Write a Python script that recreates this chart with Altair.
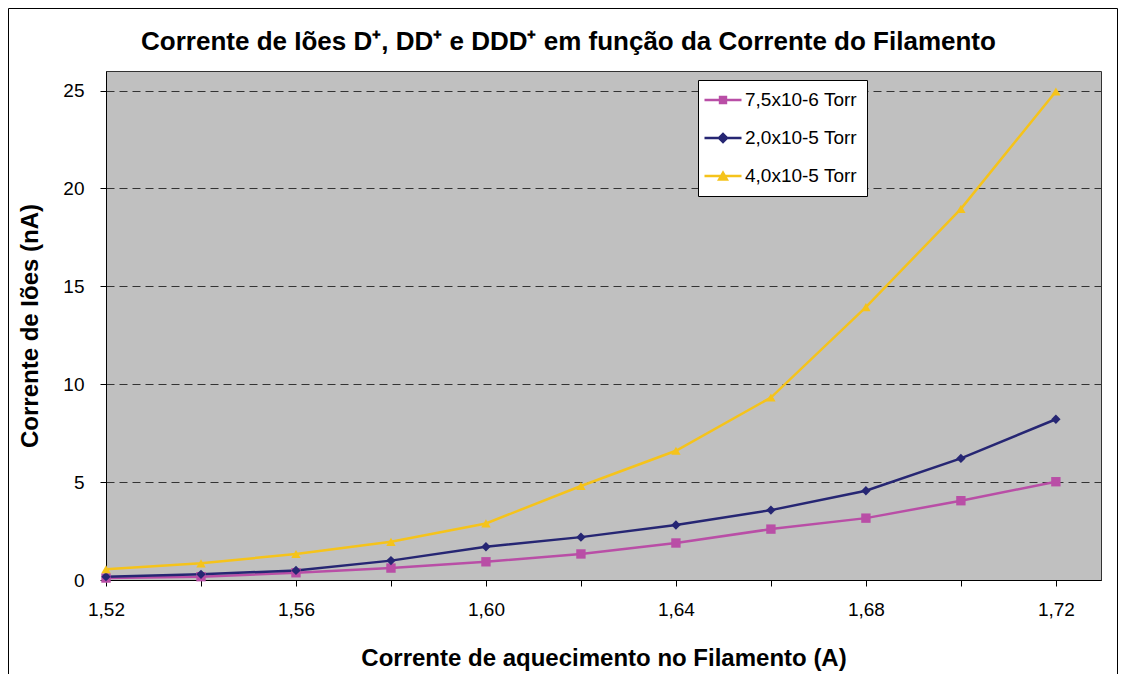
import altair as alt
import pandas as pd

# ---- data ----
current = [1.52, 1.54, 1.56, 1.58, 1.60, 1.62, 1.64, 1.66, 1.68, 1.70, 1.72]
s_75e6 = [0.10, 0.17, 0.37, 0.61, 0.93, 1.33, 1.89, 2.60, 3.16, 4.05, 5.02]
s_20e5 = [0.17, 0.29, 0.49, 0.99, 1.70, 2.19, 2.81, 3.57, 4.56, 6.21, 8.21]
s_40e5 = [0.55, 0.85, 1.33, 1.95, 2.89, 4.80, 6.60, 9.32, 13.94, 18.96, 24.95]
series = ["7,5x10-6 Torr", "2,0x10-5 Torr", "4,0x10-5 Torr"]
colors = ["#B94EA6", "#262673", "#F5C31B"]
y_ticks = [0, 5, 10, 15, 20, 25]
title_text = ["Corrente de Iões D⁺, DD⁺ e DDD⁺ em função da Corrente do Filamento"]

rows = []
for name, vals in zip(series, [s_75e6, s_20e5, s_40e5]):
    for c, v in zip(current, vals):
        rows.append({"corrente": c, "ioes": v, "serie": name})
df = pd.DataFrame(rows)

W, H = 995, 509
FONT = "Liberation Sans"

# legend symbols: a line segment with the marker on it
leg_shapes = [
    "M-1.35,-0.12L2.35,-0.12L2.35,0.12L-1.35,0.12Z M0.08,-0.42L0.92,-0.42L0.92,0.42L0.08,0.42Z",
    "M-1.35,-0.12L2.35,-0.12L2.35,0.12L-1.35,0.12Z M0.5,-0.58L1.08,0L0.5,0.58L-0.08,0Z",
    "M-1.35,-0.12L2.35,-0.12L2.35,0.12L-1.35,0.12Z M0.5,-0.58L1.1,0.47L-0.1,0.47Z",
]

x_enc = alt.X(
    "corrente:Q",
    scale=alt.Scale(domain=[1.52, 1.7295], nice=False, zero=False),
    axis=alt.Axis(
        values=current,
        labelExpr="round(datum.value*100) % 4 == 0 ? replace(format(datum.value, '.2f'), '.', ',') : ''",
        title="Corrente de aquecimento no Filamento (A)",
        titleFont=FONT, titleFontSize=24, titleFontWeight="bold", titleColor="black",
        titlePadding=27,
        labelFont=FONT, labelFontSize=19, labelColor="black", labelPadding=14,
        labelFlush=False,
        tickSize=6, tickColor="black", domainColor="black", grid=False,
    ),
)
y_enc = alt.Y(
    "ioes:Q",
    scale=alt.Scale(domain=[0, 26], nice=False),
    axis=alt.Axis(
        values=y_ticks,
        title="Corrente de Iões (nA)",
        titleFont=FONT, titleFontSize=24, titleFontWeight="bold", titleColor="black",
        titlePadding=20,
        labelFont=FONT, labelFontSize=19, labelColor="black", labelPadding=16,
        labelFlush=False,
        tickSize=6, tickColor="black", domainColor="black",
        grid=True, gridColor="#333333", gridDash=[8, 5], gridWidth=1,
    ),
)

border = alt.Chart(pd.DataFrame({"b": [0]})).mark_rect(
    fill="transparent", stroke="black", strokeWidth=1
).encode(
    x=alt.value(-97.5), x2=alt.value(W + 16.5),
    y=alt.value(-62.5), y2=alt.value(H + 200),
)

title = alt.Chart(pd.DataFrame({"t": title_text})).mark_text(
    font=FONT, fontSize=26, fontWeight="bold", color="black",
    align="center", baseline="alphabetic",
).encode(text="t:N", x=alt.value(462.5), y=alt.value(-21))

base = alt.Chart(df)

lines = base.mark_line(strokeWidth=2.5).encode(
    x=x_enc, y=y_enc,
    color=alt.Color("serie:N", scale=alt.Scale(domain=series, range=colors), legend=None),
)

points = base.mark_point(filled=True, size=88, opacity=1).encode(
    x=x_enc, y=y_enc,
    color=alt.Color("serie:N", scale=alt.Scale(domain=series, range=colors), legend=None),
    shape=alt.Shape("serie:N", scale=alt.Scale(domain=series, range=["square", "diamond", "triangle-up"]), legend=None),
)

leg = alt.Legend(
    orient="none", legendX=592, legendY=9, padding=10, rowPadding=18,
    symbolSize=400, symbolStrokeWidth=0, symbolOpacity=1,
    labelOffset=17, labelFont=FONT, labelFontSize=19, labelColor="black",
    strokeColor="black", fillColor="white",
)

legend_layer = base.mark_point(filled=True, opacity=0).encode(
    x=x_enc, y=y_enc,
    color=alt.Color("serie:N", title=None, scale=alt.Scale(domain=series, range=colors), legend=leg),
    shape=alt.Shape("serie:N", title=None, scale=alt.Scale(domain=series, range=leg_shapes), legend=leg),
)

chart = alt.layer(border, title, lines, points, legend_layer).resolve_scale(
    color="independent", shape="independent"
).resolve_legend(color="independent", shape="independent").properties(
    width=W, height=H,
    autosize=alt.AutoSizeParams(type="none"),
    padding={"left": 98, "top": 63, "right": 17, "bottom": 94},
).configure(background="white").configure_view(
    fill="#C0C0C0", stroke="#333333", strokeWidth=1
)

chart.save("out.html", embed_options={"renderer": "svg", "actions": False})
